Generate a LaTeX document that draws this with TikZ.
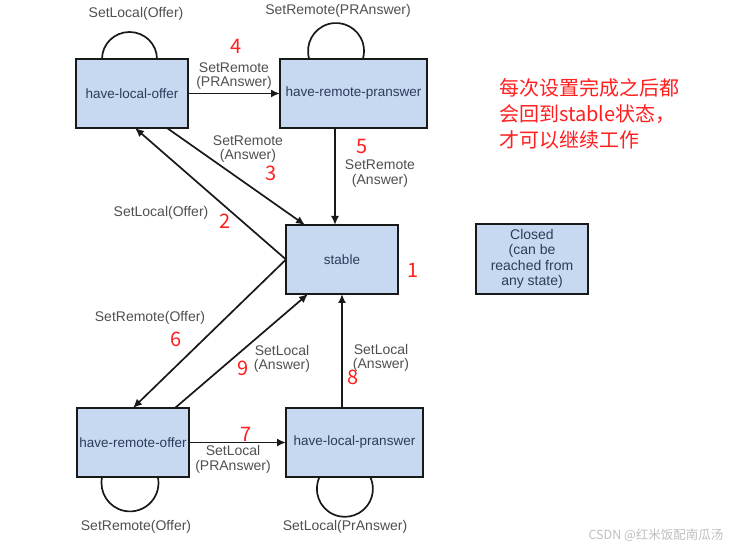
\documentclass[tikz,border=0pt]{standalone}
\usepackage{fontspec}
\setmainfont{Liberation Sans}
\newfontfamily\cjk{Noto Sans CJK SC}
\usetikzlibrary{arrows.meta}
\definecolor{boxfill}{HTML}{C6D9F0}
\definecolor{boxtext}{HTML}{2E3B5A}
\definecolor{lbltext}{HTML}{505050}
\definecolor{rednum}{HTML}{FF1F1F}
\tikzset{
  statebox/.style={draw=black!90, line width=2.2pt, fill=boxfill, inner sep=0pt, outer sep=0pt,
    text=boxtext, font=\fontsize{13.5}{15}\selectfont},
  arr/.style={line width=1.7pt, draw=black!90, -{Latex[length=9pt,width=8pt]}},
  loopline/.style={line width=1.7pt, draw=black!90},
  elabel/.style={text=lbltext, font=\fontsize{14}{14.5}\selectfont, align=center, inner sep=0pt},
  num/.style={text=rednum, font=\cjk\fontsize{20}{22}\selectfont, inner sep=0pt},
}
\begin{document}
\begin{tikzpicture}[x=1pt,y=1pt]
\useasboundingbox[fill=white] (0,0) rectangle (737,-548);

% states
\node[statebox, minimum width=112pt, minimum height=69pt] (hlo) at (132,-93.5) {have-local-offer};
\node[statebox, minimum width=147pt, minimum height=69pt] (hrp) at (353.5,-93.5) {have-remote-pranswer};
\node[statebox, minimum width=112pt, minimum height=69pt] (stable) at (342,-259.5) {stable};
\node[statebox, minimum width=112pt, minimum height=69pt] (hro) at (133,-442.5) {have-remote-offer};
\node[statebox, minimum width=137pt, minimum height=69pt] (hlp) at (354.5,-442.5) {have-local-pranswer};
\node[statebox, minimum width=112pt, minimum height=70pt, align=center,
      font=\fontsize{14}{15.4}\selectfont] (closed) at (532,-259)
      {Closed\\(can be\\reached from\\any state)};

% self loops
\draw[loopline] ([xshift=-30pt]hlo.north) arc[start angle=180, end angle=0, x radius=27.5, y radius=27];
\draw[loopline] ([xshift=-44.3pt]hrp.north) arc[start angle=196.6, end angle=-16.6, radius=28];
\draw[loopline] ([xshift=-30.9pt]hro.south) arc[start angle=168, end angle=372, radius=28.5];
\draw[loopline] ([xshift=-35pt]hlp.south) arc[start angle=155, end angle=385, radius=28];

% transitions
\draw[arr] (hlo.east) -- (hrp.west);
\draw[arr] (stable.west) -- ([xshift=3pt]hlo.south);
\draw[arr] ([xshift=35pt]hlo.south) -- ([xshift=-37pt]stable.north);
\draw[arr] ([xshift=-18.5pt]hrp.south) -- ([xshift=-7pt]stable.north);
\draw[arr] (stable.west) -- (hro.north);
\draw[arr] ([xshift=42pt]hro.north) -- ([xshift=-34pt]stable.south);
\draw[arr] ([xshift=-12.5pt]hlp.north) -- (stable.south);
\draw[arr] (hro.east) -- (hlp.west);

% edge labels
\node[elabel] (l-hlo) at (136,-14) {SetLocal(Offer)};
\node[elabel] (l-hrp) at (338,-11) {SetRemote(PRAnswer)};
\node[elabel] (l4) at (234,-76) {SetRemote\\(PRAnswer)};
\node[elabel] (l3) at (248,-149) {SetRemote\\(Answer)};
\node[elabel] (l5) at (380,-173.5) {SetRemote\\(Answer)};
\node[elabel] (l2) at (161,-213) {SetLocal(Offer)};
\node[elabel] (l6) at (150,-318) {SetRemote(Offer)};
\node[elabel] (l9) at (282,-359) {SetLocal\\(Answer)};
\node[elabel] (l8) at (381,-358) {SetLocal\\(Answer)};
\node[elabel] (l7) at (233,-459.5) {SetLocal\\(PRAnswer)};
\node[elabel] (l-hro) at (136,-527) {SetRemote(Offer)};
\node[elabel] (l-hlp) at (345,-527) {SetLocal(PrAnswer)};

% red numbers
\node[num] (n1) at (413,-270) {1};
\node[num] (n2) at (225,-221) {2};
\node[num] (n3) at (271,-173) {3};
\node[num] (n4) at (236,-46) {4};
\node[num] (n5) at (362,-147) {5};
\node[num] (n6) at (176,-339) {6};
\node[num] (n7) at (246,-434) {7};
\node[num] (n8) at (353,-377) {8};
\node[num] (n9) at (243,-368) {9};

% note
\node[text=rednum, font=\cjk\fontsize{20}{26}\selectfont, align=left, anchor=west, inner sep=0pt]
  (note) at (499,-114) {每次设置完成之后都\\会回到stable状态，\\才可以继续工作};

% watermark
\node[text=black!25, font=\cjk\fontsize{12.5}{14}\selectfont, inner sep=0pt] (wm) at (656,-535) {CSDN @红米饭配南瓜汤};
\end{tikzpicture}
\end{document}
